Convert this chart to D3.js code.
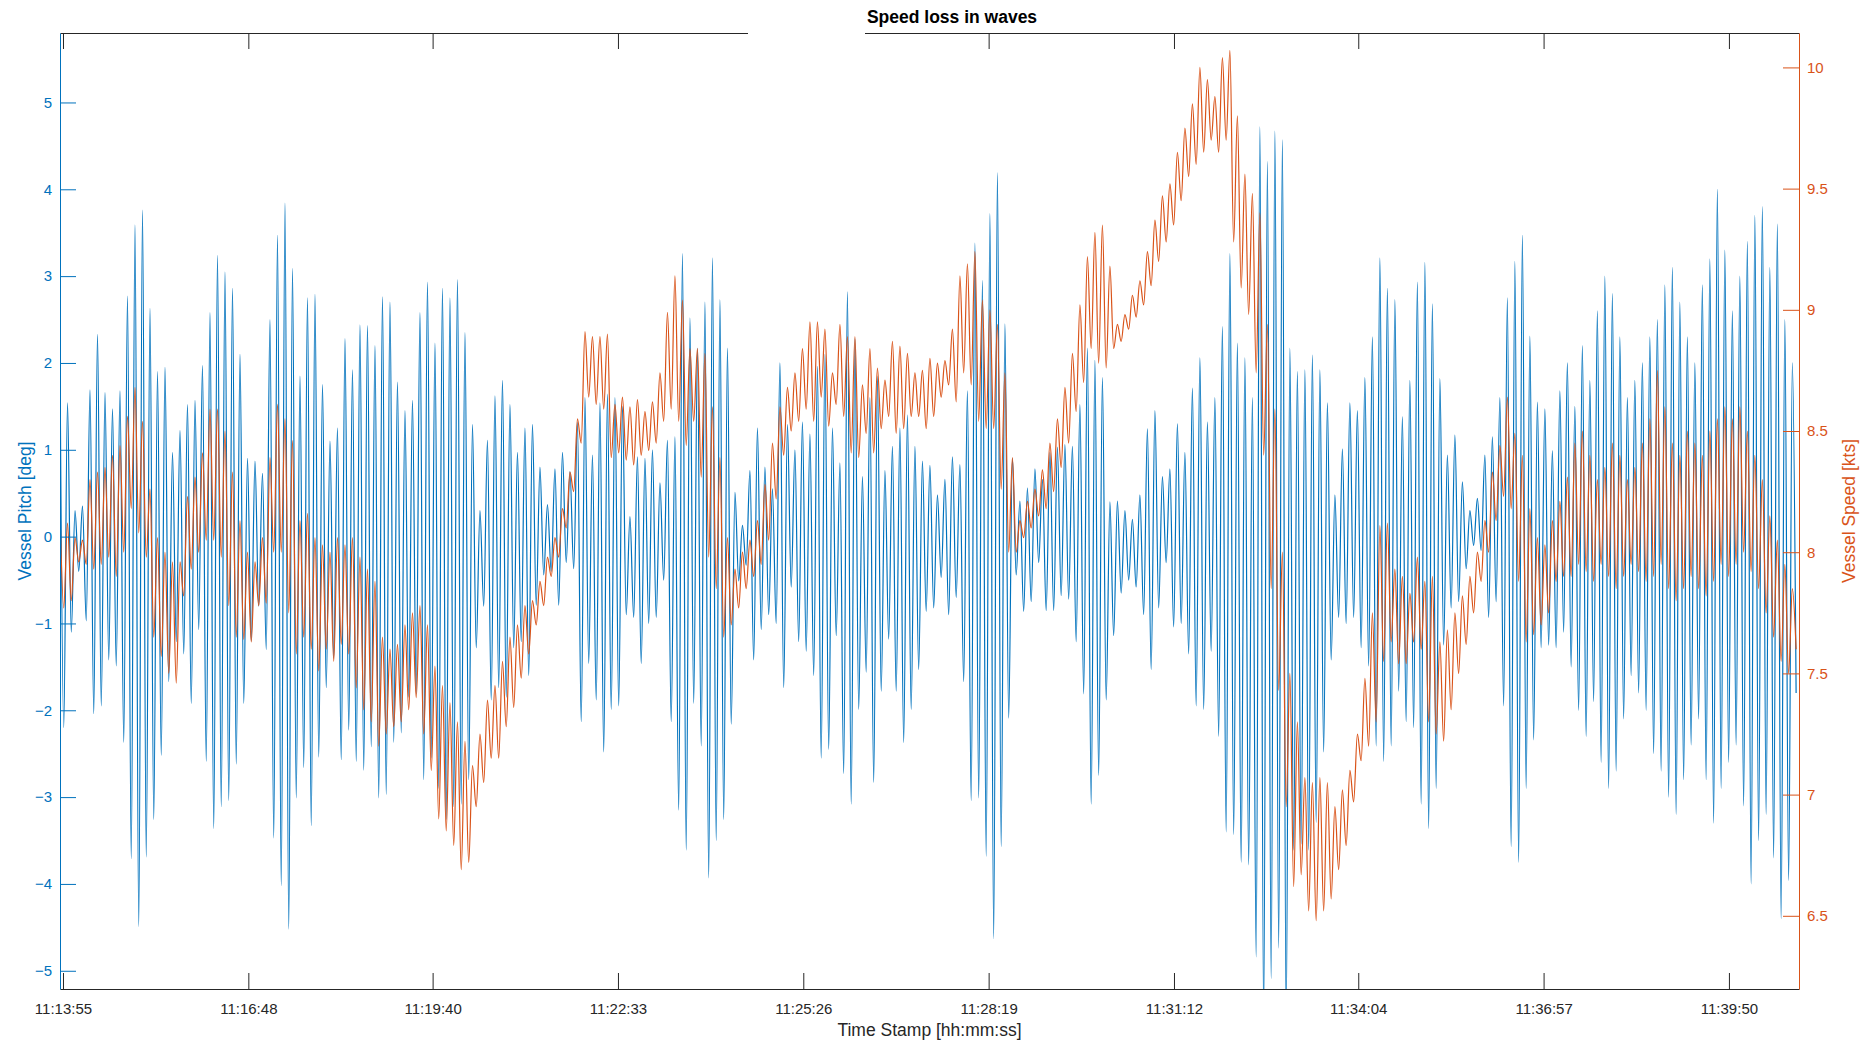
<!DOCTYPE html>
<html>
<head>
<meta charset="utf-8">
<script src="https://cdn.jsdelivr.net/npm/d3@7"></script>
<style>
  body { margin: 0; background: #fff; }
  svg { display: block; }
  text { font-family: "Liberation Sans", Arial, sans-serif; }
</style>
</head>
<body>
<svg id="chart" width="1875" height="1046"></svg>
<script>
// ---- data ----
const chartTitle = "Speed loss in waves";
const xLabel = "Time Stamp [hh:mm:ss]";
const pitchLabel = "Vessel Pitch [deg]";
const speedLabel = "Vessel Speed [kts]";

const timeTicks = ["11:13:55", "11:16:48", "11:19:40", "11:22:33", "11:25:26",
  "11:28:19", "11:31:12", "11:34:04", "11:36:57", "11:39:50"];
const pitchTicks = [-5, -4, -3, -2, -1, 0, 1, 2, 3, 4, 5];
const speedTicks = [6.5, 7, 7.5, 8, 8.5, 9, 9.5, 10];

const timeRange = ["11:13:52.200", "11:40:55.400"];
const pitchRange = [-5.21, 5.80];
const speedRange = [6.198, 10.142];

// samples are logged every 3.5 s starting at sampleStart (crest / trough pairs)
const sampleStart = "11:13:52.200";
const sampleStepSec = 3.5;

// vessel pitch [deg]
const pitch = [
  2.0,-2.2, 1.54,-1.1, 0.3,-0.4, 0.35,-0.97, 1.69,-2.04, 2.33,-1.95, 1.66,-1.42, 1.47,-1.49, 1.68,-2.37, 2.77,-3.71, 3.59,-4.49, 3.76,-3.69, 2.63,-3.26, 1.9,-2.52, 1.95,-1.67, 0.97,-1.21, 1.22,-1.35, 1.52,-1.92, 1.57,-1.07, 1.97,-2.59, 2.58,-3.36, 3.24,-3.11, 3.05,-3.04, 2.86,-2.62, 2.1,-1.92, 0.9,-1.2, 0.87,-0.8, 0.73,-1.3, 2.5,-3.47,
  3.47,-4.02, 3.84,-4.52, 3.09,-3.01, 1.85,-2.66, 2.75,-3.33, 2.79,-2.54, 1.75,-1.74, 1.1,-1.4, 1.25,-2.57, 2.28,-2.23, 1.92,-2.59, 2.44,-2.69, 2.43,-2.42, 2.2,-3.01, 2.76,-2.97, 2.7,-2.37, 1.78,-2.26, 1.45,-1.85, 1.57,-1.81, 2.58,-2.8, 2.93,-2.55, 2.23,-2.9, 2.86,-3.26, 2.75,-3.11, 2.96,-3.08, 2.35,-2.8, 1.29,-1.28, 0.3,-0.8,
  1.11,-1.88, 1.62,-1.74, 1.8,-1.85, 1.52,-1.28, 0.97,-1.21, 1.25,-1.6, 1.29,-0.79, 0.8,-0.44, 0.37,-0.4, 0.78,-0.79, 0.97,-0.3, 0.75,-0.37, 1.32,-2.13, 1.6,-1.46, 0.94,-1.88, 1.54,-2.48, 1.64,-1.99, 1.6,-1.95, 1.5,-0.9, 0.23,-0.93, 0.92,-1.46, 0.9,-1.0, 1.0,-0.93, 0.62,-0.5, 1.11,-2.13, 1.15,-3.15, 3.26,-3.61, 2.52,-1.92, 2.17,-2.41, 2.7,-3.93,
  3.21,-3.5, 2.73,-3.26, 2.17,-2.16, 0.51,-0.51, 0.13,-0.33, 0.76,-1.42, 1.25,-1.07, 0.8,-0.9, 0.55,-1.0, 2.0,-1.74, 1.29,-0.58, 1.0,-1.21, 1.32,-1.32, 1.18,-1.6, 1.96,-2.55, 2.1,-2.45, 1.25,-1.14, 0.85,-2.73, 2.82,-3.08, 2.28,-1.99, 0.69,-1.56, 1.6,-2.83, 1.85,-1.78, 0.76,-1.18, 1.04,-1.78, 1.25,-2.37, 1.4,-1.99, 1.04,-1.53,
  0.87,-0.86, 0.82,-0.82, 0.48,-0.47, 0.66,-0.9, 0.92,-0.7, 0.83,-1.67, 1.68,-3.04, 3.38,-3.01, 2.95,-3.68, 3.72,-4.63, 4.19,-3.57, 2.45,-2.09, 0.9,-0.44, 0.41,-0.86, 0.56,-0.75, 0.78,-0.3, 0.66,-0.85, 0.97,-0.85, 1.03,-0.68, 1.06,-0.72, 1.04,-1.21, 1.52,-1.81, 2.17,-3.08, 2.03,-2.75, 1.83,-1.88, 0.4,-1.14, 0.41,-0.65, 0.3,-0.5, 0.2,-0.58,
  0.48,-0.9, 1.24,-1.53, 1.45,-0.82, 0.69,-0.3, 0.78,-1.04, 1.3,-1.0, 0.97,-1.35, 1.71,-1.95, 2.06,-1.99, 1.32,-1.32, 1.6,-2.3, 2.42,-3.4, 3.26,-3.43, 2.23,-3.75, 2.06,-3.78, 1.6,-4.84, 4.72,-5.6, 4.32,-5.09, 4.67,-4.74, 4.57,-5.6, 2.17,-3.61, 1.9,-3.54, 1.92,-3.61, 2.09,-3.29, 1.92,-2.48, 1.54,-1.42, 0.48,-0.93, 1.01,-1.0, 1.54,-0.93,
  1.45,-1.28, 1.83,-1.49, 2.3,-2.41, 3.21,-2.59, 2.86,-2.41, 2.73,-1.78, 1.38,-2.13, 1.8,-2.2, 2.93,-3.08, 3.16,-3.36, 2.68,-2.9, 1.82,-1.25, 0.94,-0.82, 1.17,-0.75, 0.63,-0.37, 0.3,-0.1, 0.44,-0.16, 0.94,-0.93, 1.15,-0.75, 1.6,-1.95, 2.75,-3.57, 3.17,-3.75, 3.47,-2.9, 2.31,-2.34, 1.55,-1.28, 1.47,-1.25, 0.99,-1.28, 1.68,-1.1,
  2.0,-1.5, 1.5,-2.0, 2.2,-2.3, 1.8,-1.9, 2.6,-2.6, 3.0,-2.9, 2.8,-2.7, 2.3,-2.1, 1.6,-1.6, 1.8,-1.8, 2.0,-2.0, 2.3,-2.5, 2.5,-2.7, 2.9,-3.0, 3.1,-3.2, 2.7,-2.8, 2.3,-2.4, 2.0,-2.1, 2.9,-2.8, 3.2,-3.3, 4.0,-2.9, 3.3,-2.6, 2.6,-2.4, 3.0,-3.1, 3.4,-4.0, 3.7,-3.5, 3.8,-3.2, 3.1,-3.7, 3.6,-4.4, 2.5,-3.96, 2.0,-1.8
];

// vessel speed [kts]
const speed = [
  8.16,7.77, 8.12,7.8, 8.06,7.96, 8.05,7.95, 8.3,7.93, 8.33,7.95, 8.35,7.98, 8.4,7.9, 8.44,8.0, 8.56,8.18, 8.68,8.08, 8.54,7.98, 8.26,7.65, 8.06,7.57, 8.0,7.5, 7.96,7.46, 7.96,7.82, 8.23,7.93, 8.31,8.0, 8.41,8.05, 8.59,8.05, 8.59,7.98, 8.5,7.78, 8.33,7.65, 8.13,7.64, 8.0,7.63, 7.96,7.78, 8.06,7.79, 8.39,8.0,
  8.61,8.0, 8.55,7.75, 8.46,7.58, 8.13,7.65, 8.16,7.6, 8.06,7.51, 8.03,7.6, 8.0,7.55, 8.06,7.62, 8.03,7.58, 8.06,7.44, 7.98,7.35, 7.93,7.3, 7.88,7.2, 7.65,7.25, 7.6,7.28, 7.62,7.3, 7.7,7.35, 7.75,7.4, 7.78,7.25, 7.7,7.1, 7.53,6.9, 7.45,6.85, 7.38,6.79, 7.3,6.69, 7.22,6.72, 7.12,6.95, 7.25,7.05,
  7.39,7.15, 7.45,7.15, 7.55,7.28, 7.65,7.36, 7.7,7.48, 7.78,7.58, 7.8,7.7, 7.88,7.78, 7.98,7.9, 8.06,7.98, 8.18,8.1, 8.33,8.25, 8.55,8.45, 8.91,8.64, 8.89,8.61, 8.89,8.59, 8.9,8.39, 8.61,8.41, 8.64,8.38, 8.6,8.36, 8.63,8.4, 8.58,8.42, 8.62,8.45, 8.74,8.54, 8.99,8.59, 9.14,8.54, 9.04,8.44, 8.84,8.54, 8.84,8.31, 8.82,7.98,
  8.6,7.85, 8.39,7.65, 8.06,7.7, 7.93,7.77, 8.0,7.85, 8.05,7.9, 8.13,7.95, 8.28,8.05, 8.45,8.22, 8.6,8.4, 8.68,8.5, 8.74,8.54, 8.84,8.59, 8.95,8.54, 8.95,8.64, 8.92,8.52, 8.74,8.61, 8.94,8.56, 8.89,8.41, 8.89,8.39, 8.69,8.49, 8.84,8.41, 8.76,8.51, 8.71,8.56, 8.87,8.49, 8.85,8.51, 8.82,8.56, 8.74,8.56,
  8.75,8.51, 8.8,8.56, 8.78,8.64, 8.79,8.69, 8.92,8.62, 9.14,8.74, 9.19,8.69, 9.24,8.54, 9.04,8.51, 9.0,8.51, 8.94,8.26, 8.74,8.0, 8.39,8.0, 8.13,8.06, 8.21,8.1, 8.26,8.15, 8.34,8.18, 8.45,8.25, 8.55,8.35, 8.68,8.45, 8.82,8.58, 9.02,8.7, 9.22,8.84, 9.32,8.78, 9.35,8.76, 9.18,8.84, 8.94,8.87, 8.98,8.92, 9.06,8.97,
  9.12,9.02, 9.24,9.1, 9.37,9.2, 9.47,9.28, 9.52,9.35, 9.65,9.45, 9.75,9.55, 9.85,9.6, 10.0,9.65, 9.95,9.7, 9.88,9.65, 10.04,9.7, 10.07,9.28, 9.8,9.09, 9.56,8.98, 9.48,8.74, 9.4,8.4, 8.94,7.85, 8.59,7.43, 8.0,6.95, 7.5,6.62, 7.3,6.67, 7.07,6.52, 7.05,6.48, 7.07,6.52, 7.05,6.57, 6.95,6.69, 7.02,6.79, 7.1,6.97,
  7.25,7.14, 7.48,7.2, 7.75,7.3, 8.11,7.55, 8.12,7.63, 7.93,7.54, 7.9,7.54, 7.83,7.63, 7.98,7.6, 7.88,7.3, 7.9,7.25, 7.63,7.22, 7.68,7.35, 7.75,7.5, 7.82,7.62, 7.9,7.75, 8.0,7.88, 8.13,8.0, 8.33,8.13, 8.44,8.23, 8.64,8.18, 8.49,7.88, 8.4,7.63, 8.18,7.66, 8.06,7.7, 8.03,7.75, 8.13,7.88, 8.21,7.9,
  8.31,7.9, 8.45,7.95, 8.5,7.92, 8.4,7.88, 8.3,7.95, 8.35,7.9, 8.45,7.85, 8.4,7.9, 8.3,7.95, 8.35,7.92, 8.45,7.88, 8.55,7.9, 8.75,7.95, 8.6,7.85, 8.45,7.8, 8.4,7.85, 8.5,7.9, 8.45,7.85, 8.4,7.82, 8.5,7.88, 8.55,7.95, 8.6,7.9, 8.55,7.95, 8.6,8.0, 8.5,7.92, 8.4,7.85, 8.3,7.75, 8.15,7.65, 8.05,7.55, 7.95,7.5, 7.85,7.6
];

// ---- layout ----
const W = 1875, H = 1046;
const plot = { left: 60, right: 1799, top: 33, bottom: 989 };
const blue = "#0072BD", orange = "#D95319", dark = "#262626";

const parseT = d3.timeParse("%H:%M:%S");
const parseTms = d3.timeParse("%H:%M:%S.%L");
const fmtT = d3.timeFormat("%H:%M:%S");

const x = d3.scaleTime()
  .domain(timeRange.map(parseTms))
  .range([plot.left, plot.right]);
const yPitch = d3.scaleLinear().domain(pitchRange).range([plot.bottom, plot.top]);
const ySpeed = d3.scaleLinear().domain(speedRange).range([plot.bottom, plot.top]);

const t0 = parseTms(sampleStart).getTime();
const timeAt = i => new Date(t0 + i * sampleStepSec * 1000);

const svg = d3.select("#chart");
svg.append("rect").attr("width", W).attr("height", H).attr("fill", "#fff");

svg.append("defs").append("clipPath").attr("id", "plotClip")
  .append("rect")
  .attr("x", plot.left).attr("y", plot.top)
  .attr("width", plot.right - plot.left).attr("height", plot.bottom - plot.top);

const lines = svg.append("g").attr("clip-path", "url(#plotClip)");

lines.append("path")
  .datum(pitch)
  .attr("fill", "none")
  .attr("stroke", blue)
  .attr("stroke-width", 1.2)
  .attr("d", d3.line().x((d, i) => x(timeAt(i))).y(d => yPitch(d)).curve(d3.curveMonotoneX));

lines.append("path")
  .datum(speed)
  .attr("fill", "none")
  .attr("stroke", orange)
  .attr("stroke-width", 1.2)
  .attr("d", d3.line().x((d, i) => x(timeAt(i))).y(d => ySpeed(d)).curve(d3.curveMonotoneX));

// ---- axes ----
const tickDates = timeTicks.map(parseT);

function styleAxis(g, color) {
  g.attr("font-size", 15).attr("font-family", "Liberation Sans, Arial, sans-serif");
  g.selectAll("path, line").attr("stroke", color).attr("stroke-width", 1);
  g.selectAll("text").attr("fill", color);
}

svg.append("g")
  .attr("transform", `translate(0,${plot.bottom})`)
  .call(d3.axisBottom(x).tickValues(tickDates).tickFormat(fmtT)
    .tickSizeInner(-16).tickSizeOuter(0).tickPadding(14))
  .call(g => styleAxis(g, dark));

svg.append("g")
  .attr("transform", `translate(0,${plot.top})`)
  .call(d3.axisTop(x).tickValues(tickDates).tickFormat("")
    .tickSizeInner(-16).tickSizeOuter(0))
  .call(g => styleAxis(g, dark));

svg.append("g")
  .attr("transform", `translate(${plot.left},0)`)
  .call(d3.axisLeft(yPitch).tickValues(pitchTicks).tickFormat(d3.format("d"))
    .tickSizeInner(-16).tickSizeOuter(0).tickPadding(8))
  .call(g => styleAxis(g, blue));

svg.append("g")
  .attr("transform", `translate(${plot.right},0)`)
  .call(d3.axisRight(ySpeed).tickValues(speedTicks).tickFormat(d => String(d))
    .tickSizeInner(-16).tickSizeOuter(0).tickPadding(8))
  .call(g => styleAxis(g, orange));

// the title sits in a white box that breaks the top frame line
svg.append("rect")
  .attr("x", 748).attr("y", 22)
  .attr("width", 117).attr("height", 30)
  .attr("fill", "#fff");

svg.append("text")
  .attr("x", 952).attr("y", 23)
  .attr("text-anchor", "middle")
  .attr("font-size", 17.5)
  .attr("font-weight", "bold")
  .attr("fill", "#000")
  .text(chartTitle);

svg.append("text")
  .attr("x", (plot.left + plot.right) / 2).attr("y", 1036)
  .attr("text-anchor", "middle")
  .attr("font-size", 17.5)
  .attr("fill", dark)
  .text(xLabel);

svg.append("text")
  .attr("transform", `translate(31,${(plot.top + plot.bottom) / 2}) rotate(-90)`)
  .attr("text-anchor", "middle")
  .attr("font-size", 17.5)
  .attr("fill", blue)
  .text(pitchLabel);

svg.append("text")
  .attr("transform", `translate(1855,${(plot.top + plot.bottom) / 2}) rotate(-90)`)
  .attr("text-anchor", "middle")
  .attr("font-size", 17.5)
  .attr("fill", orange)
  .text(speedLabel);
</script>
</body>
</html>
